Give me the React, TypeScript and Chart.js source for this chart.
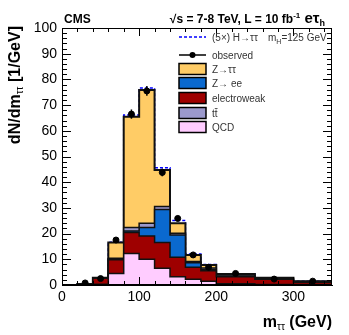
import React, { useEffect, useRef } from 'react';
import { Chart, registerables } from 'chart.js';

Chart.register(...registerables);

// Bin edges in GeV (variable width)
const binEdges = [0, 20, 40, 60, 80, 100, 120, 140, 160, 180, 200, 250, 300, 350];

// Stacked background components, dN/dm (1/GeV), per bin
const qcd = [0, 0.1, 0.3, 4.5, 12.3, 10.0, 6.5, 3.2, 2.2, 1.5, 0.5, 0.2, 0.1];
const electroweak = [0, 0.2, 2.3, 5.3, 8.1, 9.1, 10.0, 7.6, 4.7, 4.0, 2.7, 2.0, 0.9];
const zee = [0, 0, 0.05, 0.3, 0.6, 3.3, 12.9, 8.7, 1.8, 0.5, 0.2, 0.1, 0.05];
const ttbar = [0, 0, 0.1, 0.3, 1.4, 1.6, 1.1, 0.6, 0.4, 0.6, 0.5, 0.3, 0.3];
const ztautau = [0, 0.1, 0.1, 6.1, 43.1, 51.9, 14.2, 3.9, 2.6, 1.2, 0.4, 0.2, 0.15];
// (5x) H->tautau on top of the stack
const higgs5x = [0, 0, 0, 0.1, 0.6, 0.8, 0.9, 1.1, 0.4, 0.2, 0.1, 0, 0];
// Observed data
const observed = [null, 0.8, 2.5, 17.5, 66.5, 75.5, 43.8, 25.9, 11.7, 6.9, 4.5, 2.3, 1.5];
const observedErr = [0, 0.2, 0.35, 0.9, 1.8, 1.9, 1.5, 1.1, 0.8, 0.6, 0.3, 0.2, 0.2];

const xTickLabels = [0, 100, 200, 300];

const FONT = '"Liberation Sans", Arial, Helvetica, sans-serif';

const COLORS = {
  qcd: '#FFCCFF',
  ewk: '#9E0000',
  zee: '#0A69CF',
  tt: '#9B99CC',
  ztt: '#FFCC66',
};

type Part = { text: string; font: string; dy?: number };

function drawParts(ctx: CanvasRenderingContext2D, parts: Part[], x: number, y: number, align: 'left' | 'right') {
  let total = 0;
  const widths = parts.map((p) => {
    ctx.font = p.font;
    const w = ctx.measureText(p.text).width;
    total += w;
    return w;
  });
  let cx = align === 'right' ? x - total : x;
  ctx.textAlign = 'left';
  ctx.textBaseline = 'alphabetic';
  parts.forEach((p, i) => {
    ctx.font = p.font;
    ctx.fillText(p.text, cx, y + (p.dy || 0));
    cx += widths[i];
  });
  return total;
}

export default function App() {
  const ref = useRef<HTMLCanvasElement | null>(null);

  useEffect(() => {
    document.body.style.margin = '0';
    const canvas = ref.current;
    if (!canvas) return;

    const stacks = [qcd, electroweak, zee, ttbar, ztautau];
    let running = binEdges.slice(0, -1).map(() => 0);
    const cumulative = stacks.map((a) => {
      running = running.map((r, i) => r + a[i]);
      return running.slice();
    });
    const total = cumulative[cumulative.length - 1];
    const withHiggs = total.map((t, i) => t + higgs5x[i]);

    const toSteps = (vals: number[]) =>
      binEdges.map((e, i) => ({ x: e, y: vals[Math.min(i, vals.length - 1)] }));

    const centers = binEdges.slice(0, -1).map((e, i) => (e + binEdges[i + 1]) / 2);
    const obsPoints = centers
      .map((c, i) => ({ x: c, y: observed[i] }))
      .filter((p) => p.y !== null) as { x: number; y: number }[];

    const fills = [COLORS.qcd, COLORS.ewk, COLORS.zee, COLORS.tt, COLORS.ztt];
    const labels = ['QCD', 'electroweak', 'Z→ee', 'tt', 'Z→ττ'];

    const stackDatasets = cumulative.map((vals, k) => ({
      label: labels[k],
      data: toSteps(vals),
      stepped: 'before' as const,
      backgroundColor: fills[k],
      borderColor: '#111',
      borderWidth: k === cumulative.length - 1 ? 2 : 1.5,
      fill: k === 0 ? 'origin' : '-1',
      pointRadius: 0,
      order: 2,
    }));

    const errorBars = {
      id: 'errorBars',
      afterDatasetsDraw(chart: any) {
        const { ctx, scales } = chart;
        ctx.save();
        ctx.strokeStyle = '#000';
        ctx.lineWidth = 1.5;
        centers.forEach((c, i) => {
          const v = observed[i];
          if (v === null) return;
          const px = scales.x.getPixelForValue(c);
          ctx.beginPath();
          ctx.moveTo(px, scales.y.getPixelForValue(v - observedErr[i]));
          ctx.lineTo(px, scales.y.getPixelForValue(v + observedErr[i]));
          ctx.stroke();
        });
        ctx.restore();
      },
    };

    const frame = {
      id: 'frame',
      afterDraw(chart: any) {
        const { ctx, chartArea, scales } = chart;
        const { left, right, top, bottom } = chartArea;
        ctx.save();
        ctx.strokeStyle = '#000';
        ctx.lineWidth = 1;
        ctx.strokeRect(left + 0.5, top + 0.5, right - left - 1, bottom - top - 1);
        ctx.beginPath();
        for (let v = 0; v <= 350; v += 20) {
          const px = Math.round(scales.x.getPixelForValue(v)) + 0.5;
          const len = v % 100 === 0 ? 8 : 4;
          ctx.moveTo(px, bottom);
          ctx.lineTo(px, bottom - len);
          ctx.moveTo(px, top);
          ctx.lineTo(px, top + len);
        }
        for (let v = 0; v <= 100; v += 2) {
          const py = Math.round(scales.y.getPixelForValue(v)) + 0.5;
          const len = v % 10 === 0 ? 9 : 5;
          ctx.moveTo(left, py);
          ctx.lineTo(left + len, py);
          ctx.moveTo(right, py);
          ctx.lineTo(right - len, py);
        }
        ctx.stroke();

        // Header texts
        ctx.fillStyle = '#000';
        drawParts(ctx, [{ text: 'CMS', font: `bold 12px ${FONT}` }], left + 2, 23, 'left');
        drawParts(
          ctx,
          [
            { text: '√s = 7-8 TeV, L = 10 fb', font: `bold 12px ${FONT}` },
            { text: '-1', font: `bold 8px ${FONT}`, dy: -5 },
            { text: ' eτ', font: `bold 15px ${FONT}` },
            { text: 'h', font: `bold 9px ${FONT}`, dy: 3 },
          ],
          325,
          23,
          'right'
        );

        // Axis titles
        drawParts(
          ctx,
          [
            { text: 'm', font: `bold 16px ${FONT}` },
            { text: 'ττ', font: `10px ${FONT}`, dy: 3 },
            { text: ' (GeV)', font: `bold 16px ${FONT}` },
          ],
          right,
          327,
          'right'
        );
        ctx.save();
        ctx.translate(20, top - 2);
        ctx.rotate(-Math.PI / 2);
        drawParts(
          ctx,
          [
            { text: 'dN/dm', font: `bold 16px ${FONT}` },
            { text: 'ττ', font: `10px ${FONT}`, dy: 3 },
            { text: ' [1/GeV]', font: `bold 16px ${FONT}` },
          ],
          0,
          0,
          'right'
        );
        ctx.restore();

        // Legend
        const bx0 = 179;
        const bx1 = 206;
        const tx = 212;
        const rows = [37, 55, 69, 83, 98, 113, 127];
        const lf = `10px ${FONT}`;
        ctx.fillStyle = '#333';
        // Higgs
        ctx.save();
        ctx.strokeStyle = '#0000ff';
        ctx.lineWidth = 1.5;
        ctx.setLineDash([3, 2]);
        ctx.beginPath();
        ctx.moveTo(bx0, rows[0]);
        ctx.lineTo(bx1, rows[0]);
        ctx.stroke();
        ctx.restore();
        drawParts(ctx, [{ text: '(5×) H→ττ', font: lf }], tx, rows[0] + 3.5, 'left');
        drawParts(
          ctx,
          [
            { text: 'm', font: lf },
            { text: 'H', font: `7px ${FONT}`, dy: 3 },
            { text: '=125 GeV', font: lf },
          ],
          268,
          rows[0] + 3.5,
          'left'
        );
        // observed
        ctx.strokeStyle = '#000';
        ctx.lineWidth = 1.5;
        ctx.beginPath();
        ctx.moveTo(bx0, rows[1]);
        ctx.lineTo(bx1, rows[1]);
        ctx.stroke();
        ctx.fillStyle = '#000';
        ctx.beginPath();
        ctx.arc((bx0 + bx1) / 2, rows[1], 3, 0, Math.PI * 2);
        ctx.fill();
        ctx.fillStyle = '#333';
        drawParts(ctx, [{ text: 'observed', font: lf }], tx, rows[1] + 3.5, 'left');
        const boxes = [
          { c: COLORS.ztt, t: 'Z→ττ' },
          { c: COLORS.zee, t: 'Z→ ee' },
          { c: COLORS.ewk, t: 'electroweak' },
          { c: COLORS.tt, t: 'tt' },
          { c: COLORS.qcd, t: 'QCD' },
        ];
        boxes.forEach((b, i) => {
          const cy = rows[i + 2];
          ctx.fillStyle = b.c;
          ctx.fillRect(bx0, cy - 5.5, bx1 - bx0, 11);
          ctx.strokeStyle = '#000';
          ctx.lineWidth = 1.5;
          ctx.strokeRect(bx0, cy - 5.5, bx1 - bx0, 11);
          ctx.fillStyle = '#333';
          drawParts(ctx, [{ text: b.t, font: lf }], tx, cy + 3.5, 'left');
          if (b.t === 'tt') {
            ctx.font = lf;
            const w1 = ctx.measureText('t').width;
            ctx.strokeStyle = '#333';
            ctx.lineWidth = 0.8;
            ctx.beginPath();
            ctx.moveTo(tx + w1, cy - 4.5);
            ctx.lineTo(tx + 2 * w1, cy - 4.5);
            ctx.stroke();
          }
        });
        ctx.restore();
      },
    };

    const chart = new Chart(canvas, {
      type: 'line',
      data: {
        datasets: [
          ...stackDatasets,
          {
            label: 'higgs',
            data: toSteps(withHiggs),
            stepped: 'before',
            borderColor: '#0000ff',
            borderWidth: 1.5,
            borderDash: [3, 2],
            fill: false,
            pointRadius: 0,
            order: 3,
          },
          {
            label: 'observed',
            data: obsPoints,
            showLine: false,
            pointRadius: 3,
            pointBackgroundColor: '#000',
            pointBorderColor: '#000',
            borderColor: '#000',
            order: 0,
          },
        ] as any,
      },
      options: {
        responsive: false,
        animation: false,
        devicePixelRatio: 1,
        layout: { padding: { top: 28, right: 17, left: 0, bottom: 0 } },
        plugins: { legend: { display: false }, tooltip: { enabled: false } },
        scales: {
          x: {
            type: 'linear',
            min: 0,
            max: 350,
            afterBuildTicks: (s: any) => {
              s.ticks = xTickLabels.map((v) => ({ value: v }));
            },
            afterFit: (s: any) => {
              s.height = 50;
            },
            ticks: { padding: 4, color: '#000', font: { family: FONT, size: 14 } },
            grid: { display: false, drawTicks: false },
            border: { display: true, color: '#000' },
          },
          y: {
            type: 'linear',
            min: 0,
            max: 100,
            afterFit: (s: any) => {
              s.width = 62;
            },
            ticks: { stepSize: 10, padding: 5, color: '#000', font: { family: FONT, size: 14 } },
            grid: { display: false, drawTicks: false },
            border: { display: true, color: '#000' },
          },
        },
      },
      plugins: [errorBars, frame],
    });

    return () => chart.destroy();
  }, []);

  return <canvas ref={ref} width={349} height={335} style={{ display: 'block' }} />;
}
